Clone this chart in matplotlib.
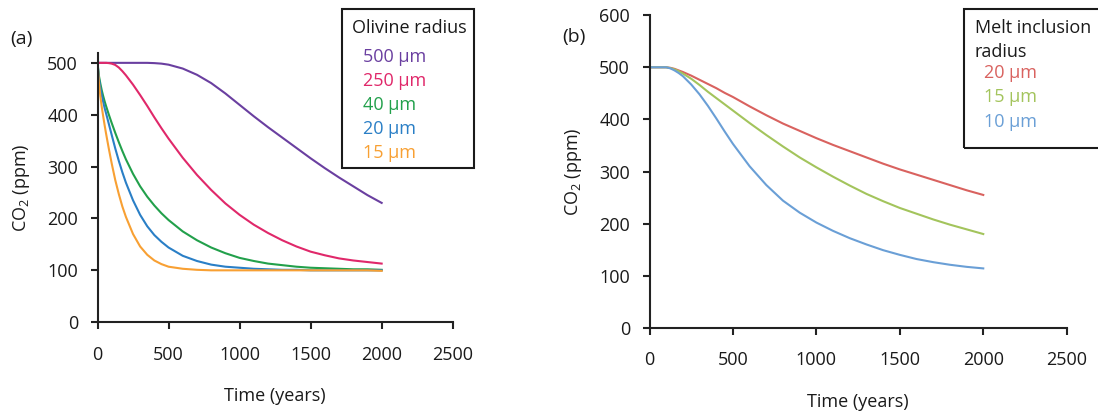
import matplotlib
matplotlib.use("Agg")
import matplotlib.pyplot as plt
from matplotlib.patches import Rectangle

plt.rcParams["font.family"] = ["Open Sans", "DejaVu Sans"]
plt.rcParams["mathtext.fontset"] = "custom"
plt.rcParams["mathtext.rm"] = "Open Sans"

# ---- panel (a): olivine radius ----
t_a = [0, 10, 20, 30, 40, 50, 60, 80, 100, 125, 150, 175, 200, 250, 300, 350, 400,
       450, 500, 600, 700, 800, 900, 1000, 1100, 1200, 1300, 1400, 1500, 1600,
       1700, 1800, 1900, 2000]
co2_500um = [500, 500, 500, 500, 500, 500, 500, 500, 500, 500, 500, 500, 500, 500, 500,
             500, 499.5, 498.5, 496.5, 489, 477, 461, 441, 419, 397, 376, 356, 336, 316,
             297, 279, 262, 245, 230]
co2_250um = [500, 500, 500, 500, 500, 500, 500, 499.5, 498.5, 496, 491, 484, 476, 458,
             438, 417, 395, 374, 354, 317, 284, 255, 229, 207, 188, 172, 158, 146, 136,
             129, 123, 119, 116, 113]
co2_40um = [500, 475, 460, 447, 436, 426, 417, 400, 384, 365, 347, 330, 314, 286, 262,
            242, 225, 210, 197, 175, 158, 144, 133, 124, 118, 113, 110, 107, 105, 104,
            103, 102, 102, 101]
co2_20um = [500, 470, 452, 438, 425, 413, 403, 382, 361, 335, 311, 289, 269, 235, 207,
            185, 168, 155, 144, 128, 118, 111, 107, 105, 103, 102, 101, 101, 100, 100,
            100, 100, 100, 100]
co2_15um = [500, 462, 436, 415, 397, 380, 364, 334, 306, 274, 247, 223, 203, 170, 146,
            130, 119, 112, 107, 103, 101, 100, 100, 100, 100, 100, 100, 100, 100, 100,
            100, 100, 100, 99]
labels_a = ["500 µm", "250 µm", "40 µm", "20 µm", "15 µm"]
colors_a = ["#6a3fa0", "#e0286a", "#22a04b", "#2a7fc6", "#f8a033"]
series_a = [co2_500um, co2_250um, co2_40um, co2_20um, co2_15um]

# ---- panel (b): melt inclusion radius ----
t_b = [0, 50, 100, 125, 150, 175, 200, 250, 300, 350, 400, 450, 500, 600, 700, 800,
       900, 1000, 1100, 1200, 1300, 1400, 1500, 1600, 1700, 1800, 1900, 2000]
mi_20um = [500, 500, 500, 499, 497, 494, 491, 484, 476, 468, 460, 451, 443, 425, 408,
           392, 378, 364, 351, 339, 327, 315, 304, 294, 284, 274, 264, 255]
mi_15um = [500, 500, 500, 498.5, 496, 492.5, 488, 478, 466, 453, 441, 429, 417, 393,
           370, 348, 327, 308, 290, 273, 257, 243, 230, 219, 208, 198, 189, 180]
mi_10um = [500, 500, 500, 498, 494, 489, 483, 467, 448, 426, 402, 377, 353, 310, 274,
           244, 221, 202, 186, 172, 160, 149, 140, 132, 126, 121, 117, 114]
labels_b = ["20 µm", "15 µm", "10 µm"]
colors_b = ["#d9625f", "#a3c45c", "#6a9fd6"]
series_b = [mi_20um, mi_15um, mi_10um]

W, H = 1098, 411
fig = plt.figure(figsize=(W / 100, H / 100), dpi=100)


def box(x0, y0, x1, y1):
    # pixel box (top-left origin) -> figure fraction rect
    return [x0 / W, 1 - y1 / H, (x1 - x0) / W, (y1 - y0) / H]


def style_axes(ax, ymax, yticks):
    ax.set_xlim(0, 2500)
    ax.set_ylim(0, ymax)
    ax.set_xticks([0, 500, 1000, 1500, 2000, 2500])
    ax.set_yticks(yticks)
    for s in ["top", "right"]:
        ax.spines[s].set_visible(False)
    for s in ["left", "bottom"]:
        ax.spines[s].set_linewidth(1.5)
        ax.spines[s].set_color("#222222")
    ax.tick_params(direction="out", length=5, width=1.5, color="#222222",
                   labelsize=13, labelcolor="#1a1a1a")
    ax.tick_params(axis="x", pad=12)
    ax.tick_params(axis="y", pad=9)
    ax.set_xlabel("Time (years)", fontsize=13, labelpad=17, color="#1a1a1a")
    ax.set_ylabel(r"CO$_{\mathregular{2}}$ (ppm)", fontsize=13, labelpad=11, color="#1a1a1a")


axA = fig.add_axes(box(97.5, 53, 452.7, 322.2))
for y, c in zip(series_a, colors_a):
    axA.plot(t_a, y, color=c, lw=1.5, solid_joinstyle="round")
style_axes(axA, 519, [0, 100, 200, 300, 400, 500])

axB = fig.add_axes(box(649.5, 15.2, 1066.7, 327.8))
for y, c in zip(series_b, colors_b):
    axB.plot(t_b, y, color=c, lw=1.5, solid_joinstyle="round")
style_axes(axB, 600, [0, 100, 200, 300, 400, 500, 600])

# panel letters
fig.text(10 / W, 1 - 39 / H, "(a)", fontsize=14, va="center", ha="left", color="#1a1a1a")
fig.text(562 / W, 1 - 37 / H, "(b)", fontsize=14, va="center", ha="left", color="#1a1a1a")

# legend boxes drawn by hand to match the figure's layout
fig.patches.append(Rectangle((342.3 / W, 1 - 168.3 / H), (474 - 342.3) / W, (168.3 - 9.3) / H,
                             transform=fig.transFigure, fill=False, lw=1.5, ec="#1a1a1a"))
fig.text(351.7 / W, 1 - 28.3 / H, "Olivine radius", fontsize=13, va="center", color="#1a1a1a")
for i, (lab, c) in enumerate(zip(labels_a, colors_a)):
    fig.text(362.7 / W, 1 - (56.7 + 24 * i) / H, lab, fontsize=13, va="center", color=c)

fig.patches.append(Rectangle((964 / W, 1 - 148.3 / H), (1120 - 964) / W, (148.3 - 9.3) / H,
                             transform=fig.transFigure, fill=False, lw=1.5, ec="#1a1a1a",
                             clip_on=False))
fig.text(975 / W, 1 - 28.3 / H, "Melt inclusion", fontsize=13, va="center", color="#1a1a1a")
fig.text(975 / W, 1 - 52.3 / H, "radius", fontsize=13, va="center", color="#1a1a1a")
for i, (lab, c) in enumerate(zip(labels_b, colors_b)):
    fig.text(984.3 / W, 1 - (73.3 + 24.2 * i) / H, lab, fontsize=13, va="center", color=c)

fig.savefig("out.png", dpi=100, facecolor="white")
